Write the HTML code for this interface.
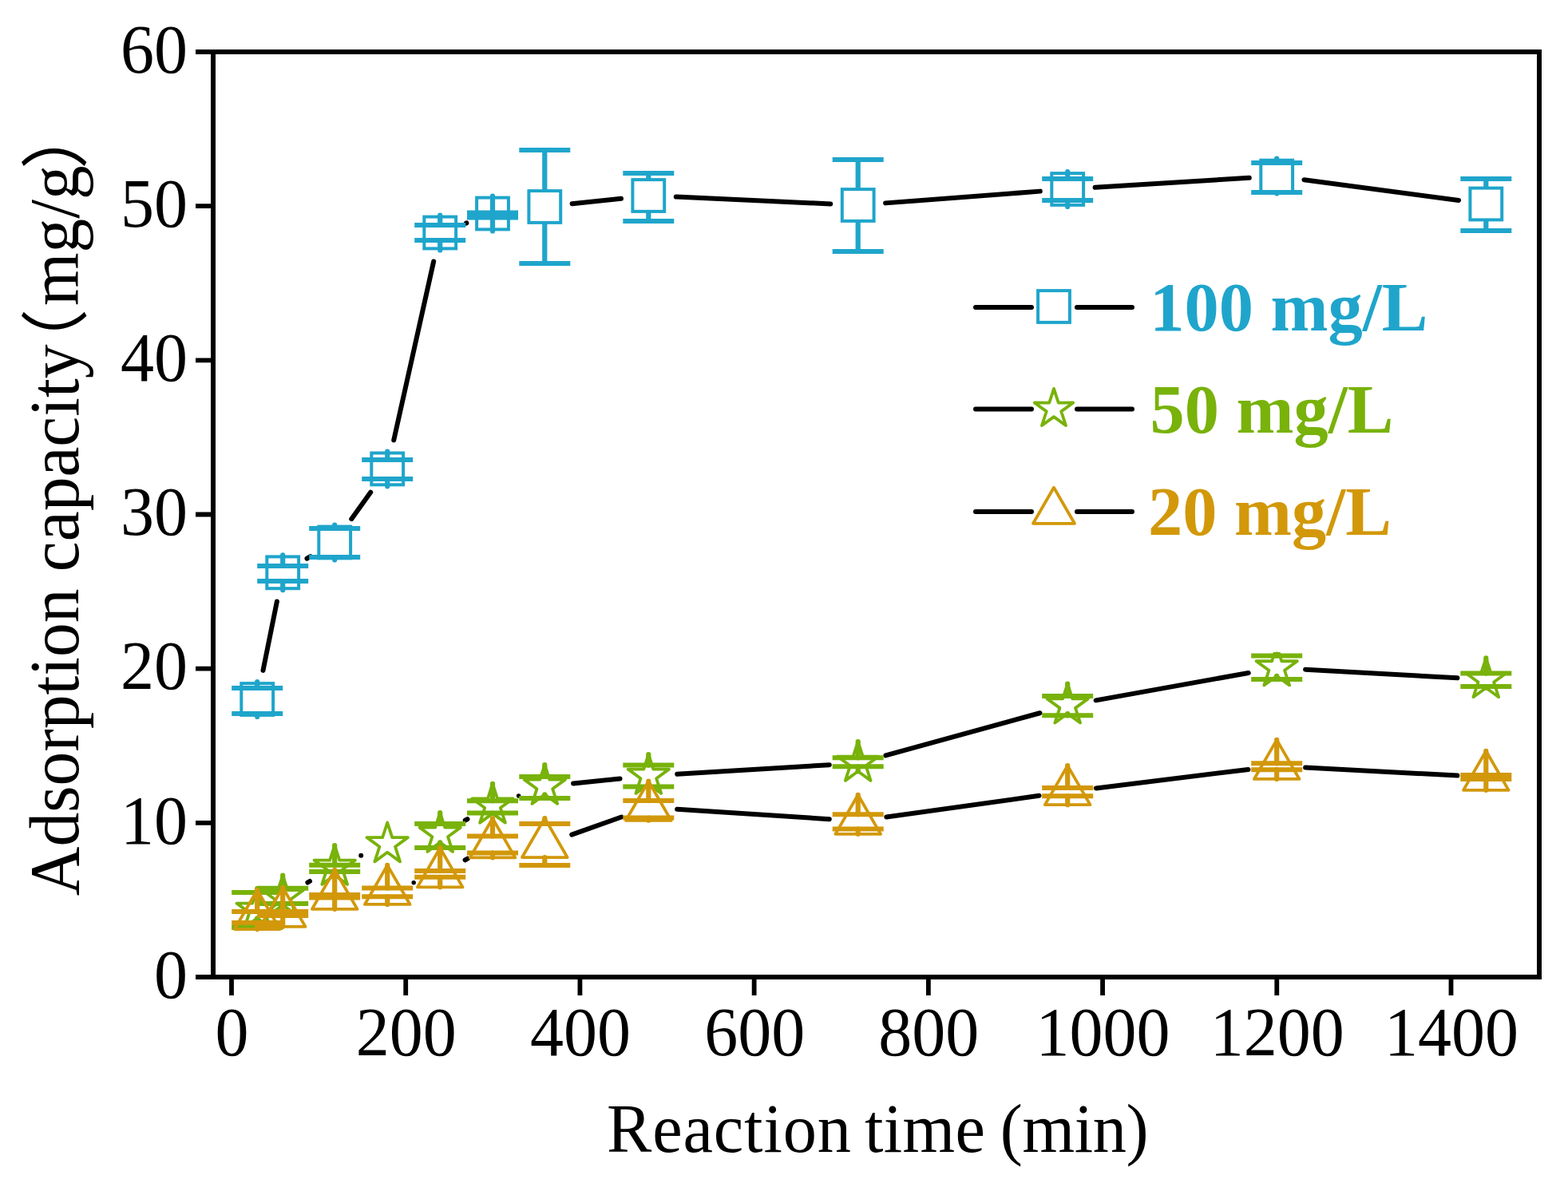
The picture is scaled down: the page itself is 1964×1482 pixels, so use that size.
<!DOCTYPE html>
<html><head><meta charset="utf-8"><title>Adsorption capacity vs reaction time</title>
<style>html,body{margin:0;padding:0;background:#fff;overflow:hidden}svg{display:block}text{font-kerning:none}</style>
</head><body>
<svg width="1964" height="1482" viewBox="0 0 1964 1482">
<rect width="1964" height="1482" fill="#fff"/>
<g font-family="'Liberation Serif', serif" font-size="84" fill="#000">
<text transform="translate(235 1249.8) scale(1 1.03)" text-anchor="end">0</text><text transform="translate(235 1056.63) scale(1 1.03)" text-anchor="end">10</text><text transform="translate(235 863.46) scale(1 1.03)" text-anchor="end">20</text><text transform="translate(235 670.29) scale(1 1.03)" text-anchor="end">30</text><text transform="translate(235 477.12) scale(1 1.03)" text-anchor="end">40</text><text transform="translate(235 283.95) scale(1 1.03)" text-anchor="end">50</text><text transform="translate(235 90.78) scale(1 1.03)" text-anchor="end">60</text>
<text transform="translate(290.5 1321.8) scale(1 1.03)" text-anchor="middle">0</text><text transform="translate(508.71 1321.8) scale(1 1.03)" text-anchor="middle">200</text><text transform="translate(726.93 1321.8) scale(1 1.03)" text-anchor="middle">400</text><text transform="translate(945.14 1321.8) scale(1 1.03)" text-anchor="middle">600</text><text transform="translate(1163.36 1321.8) scale(1 1.03)" text-anchor="middle">800</text><text transform="translate(1381.57 1321.8) scale(1 1.03)" text-anchor="middle">1000</text><text transform="translate(1599.78 1321.8) scale(1 1.03)" text-anchor="middle">1200</text><text transform="translate(1818 1321.8) scale(1 1.03)" text-anchor="middle">1400</text>
<g transform="translate(0 1442.6) scale(1 1.015)" font-size="84.4"><text x="760" y="0" letter-spacing="0.86">Reaction</text><text x="1082.9" y="0" letter-spacing="0.37">time</text><text x="1252.8" y="0" letter-spacing="-0.43">(min)</text></g>
<g transform="translate(98 1122.3) rotate(-90)" font-size="85.5">
<text x="0" y="0" transform="scale(1 1.03)">Adsorption capacity</text>
<text x="650" y="2" font-family="'Noto Sans CJK SC', sans-serif">（</text>
<text x="739.2" y="0" transform="scale(1 1.03)">mg/g</text>
<text x="910.3" y="2" font-family="'Noto Sans CJK SC', sans-serif">）</text>
</g>
</g>
<path d="M329.49 839.84L346.91 753.46M384.52 699.67L388.88 697.13M440.22 650.17L464.18 616.73M493.23 551.42L543.17 327.48M583.86 279.59L584.34 279.41M716.63 255.3L777.97 248.7M846.77 246.58L1040.23 255.42M1109.11 254.38L1302.79 239.62M1371.64 234.84L1564.76 222.76M1633.44 225.16L1827.06 250.94" stroke="#000" stroke-width="6.0" stroke-linecap="round" fill="none"/>

<rect x="302.3" y="856.1" width="39.8" height="39.8" fill="none" stroke="#1fa5cb" stroke-width="4.0"/>
<rect x="334.3" y="697.4" width="39.8" height="39.8" fill="none" stroke="#1fa5cb" stroke-width="4.0"/>
<rect x="399.3" y="659.6" width="39.8" height="39.8" fill="none" stroke="#1fa5cb" stroke-width="4.0"/>
<rect x="465.3" y="567.5" width="39.8" height="39.8" fill="none" stroke="#1fa5cb" stroke-width="4.0"/>
<rect x="531.3" y="271.6" width="39.8" height="39.8" fill="none" stroke="#1fa5cb" stroke-width="4.0"/>
<rect x="597.1" y="247.6" width="39.8" height="39.8" fill="none" stroke="#1fa5cb" stroke-width="4.0"/>
<rect x="662.4" y="239.1" width="39.8" height="39.8" fill="none" stroke="#1fa5cb" stroke-width="4.0"/>
<rect x="792.4" y="225.1" width="39.8" height="39.8" fill="none" stroke="#1fa5cb" stroke-width="4.0"/>
<rect x="1054.8" y="237.1" width="39.8" height="39.8" fill="none" stroke="#1fa5cb" stroke-width="4.0"/>
<rect x="1317.3" y="217.1" width="39.8" height="39.8" fill="none" stroke="#1fa5cb" stroke-width="4.0"/>
<rect x="1579.3" y="200.7" width="39.8" height="39.8" fill="none" stroke="#1fa5cb" stroke-width="4.0"/>
<rect x="1841.4" y="235.6" width="39.8" height="39.8" fill="none" stroke="#1fa5cb" stroke-width="4.0"/>
<path d="M322.2 854.1V862M322.2 897.9V894M354.2 695.4V709M354.2 739.2V728M419.2 657.6V662M419.2 701.4V698M485.2 565.5V576M485.2 609.3V600M551.2 269.6V282M551.2 313.4V301M617 245.6V266.5M617 289.4V272.5M682.3 237.1V188M682.3 280.9V330M812.3 223.1V217M812.3 266.9V277M1074.7 235.1V200M1074.7 278.9V315M1337.2 215.1V224M1337.2 258.9V251M1599.2 198.7V204M1599.2 242.5V241M1861.3 233.6V224M1861.3 277.4V289" stroke="#1fa5cb" stroke-width="6.2" stroke-linecap="round" fill="none"/>
<path d="M290.2 862H354.2M290.2 894H354.2M322.2 709H386.2M322.2 728H386.2M387.2 662H451.2M387.2 698H451.2M453.2 576H517.2M453.2 600H517.2M519.2 282H583.2M519.2 301H583.2M585 266.5H649M585 272.5H649M650.3 188H714.3M650.3 330H714.3M780.3 217H844.3M780.3 277H844.3M1042.7 200H1106.7M1042.7 315H1106.7M1305.2 224H1369.2M1305.2 251H1369.2M1567.2 204H1631.2M1567.2 241H1631.2M1829.3 224H1893.3M1829.3 289H1893.3" stroke="#1fa5cb" stroke-width="6.0" stroke-linecap="butt" fill="none"/>
<path d="M385.38 1105.51L388.02 1103.99M582.74 1027.65L585.46 1026.15M718.12 981.42L776.48 975.58M848.23 969.81L1038.77 958.19M1109.41 946.44L1302.49 893.26M1372.63 877.33L1563.77 842.97M1635.14 838.63L1825.36 849.37" stroke="#000" stroke-width="6.0" stroke-linecap="round" fill="none"/>
<circle cx="452.2" cy="1071.75" r="3"/><circle cx="649.65" cy="996.9" r="2.75"/>
<polygon points="322.2,1113 328.25,1131.67 347.88,1131.66 332,1143.18 338.07,1161.84 322.2,1150.3 306.33,1161.84 312.4,1143.18 296.52,1131.66 316.15,1131.67" fill="none" stroke="#78b20a" stroke-width="3.8" stroke-linejoin="round"/>
<polygon points="354.2,1096.5 360.25,1115.17 379.88,1115.16 364,1126.68 370.07,1145.34 354.2,1133.8 338.33,1145.34 344.4,1126.68 328.52,1115.16 348.15,1115.17" fill="none" stroke="#78b20a" stroke-width="3.8" stroke-linejoin="round"/>
<polygon points="419.2,1059 425.25,1077.67 444.88,1077.66 429,1089.18 435.07,1107.84 419.2,1096.3 403.33,1107.84 409.4,1089.18 393.52,1077.66 413.15,1077.67" fill="none" stroke="#78b20a" stroke-width="3.8" stroke-linejoin="round"/>
<polygon points="485.2,1030.5 491.25,1049.17 510.88,1049.16 495,1060.68 501.07,1079.34 485.2,1067.8 469.33,1079.34 475.4,1060.68 459.52,1049.16 479.15,1049.17" fill="none" stroke="#78b20a" stroke-width="3.8" stroke-linejoin="round"/>
<polygon points="551.2,1018 557.25,1036.67 576.88,1036.66 561,1048.18 567.07,1066.84 551.2,1055.3 535.33,1066.84 541.4,1048.18 525.52,1036.66 545.15,1036.67" fill="none" stroke="#78b20a" stroke-width="3.8" stroke-linejoin="round"/>
<polygon points="617,981.8 623.05,1000.47 642.68,1000.46 626.8,1011.98 632.87,1030.64 617,1019.1 601.13,1030.64 607.2,1011.98 591.32,1000.46 610.95,1000.47" fill="none" stroke="#78b20a" stroke-width="3.8" stroke-linejoin="round"/>
<polygon points="682.3,958 688.35,976.67 707.98,976.66 692.1,988.18 698.17,1006.84 682.3,995.3 666.43,1006.84 672.5,988.18 656.62,976.66 676.25,976.67" fill="none" stroke="#78b20a" stroke-width="3.8" stroke-linejoin="round"/>
<polygon points="812.3,945 818.35,963.67 837.98,963.66 822.1,975.18 828.17,993.84 812.3,982.3 796.43,993.84 802.5,975.18 786.62,963.66 806.25,963.67" fill="none" stroke="#78b20a" stroke-width="3.8" stroke-linejoin="round"/>
<polygon points="1074.7,929 1080.75,947.67 1100.38,947.66 1084.5,959.18 1090.57,977.84 1074.7,966.3 1058.83,977.84 1064.9,959.18 1049.02,947.66 1068.65,947.67" fill="none" stroke="#78b20a" stroke-width="3.8" stroke-linejoin="round"/>
<polygon points="1337.2,856.7 1343.25,875.37 1362.88,875.36 1347,886.88 1353.07,905.54 1337.2,894 1321.33,905.54 1327.4,886.88 1311.52,875.36 1331.15,875.37" fill="none" stroke="#78b20a" stroke-width="3.8" stroke-linejoin="round"/>
<clipPath id="c1200"><rect x="1559.2" y="817" width="80" height="80"/></clipPath><g clip-path="url(#c1200)"><polygon points="1599.2,809.6 1605.25,828.27 1624.88,828.26 1609,839.78 1615.07,858.44 1599.2,846.9 1583.33,858.44 1589.4,839.78 1573.52,828.26 1593.15,828.27" fill="none" stroke="#78b20a" stroke-width="3.8" stroke-linejoin="round"/></g>
<polygon points="1861.3,824.4 1867.35,843.07 1886.98,843.06 1871.1,854.58 1877.17,873.24 1861.3,861.7 1845.43,873.24 1851.5,854.58 1835.62,843.06 1855.25,843.07" fill="none" stroke="#78b20a" stroke-width="3.8" stroke-linejoin="round"/>
<path d="M322.2 1113V1118M322.2 1150.3V1162M354.2 1096.5V1112.8M354.2 1133.8V1132M419.2 1059V1083.7M419.2 1096.3V1092M551.2 1018V1032.1M551.2 1055.3V1061.9M617 981.8V1003.2M617 1019.1V1018.5M682.3 958V972.9M682.3 995.3V999.9M812.3 945V958.6M812.3 982.3V985.5M1074.7 929V949.3M1074.7 966.3V960.3M1337.2 856.7V872M1337.2 894V896.3M1599.2 819.6V821.6M1599.2 846.9V851M1861.3 824.4V843.6M1861.3 861.7V860" stroke="#78b20a" stroke-width="6.2" stroke-linecap="round" fill="none"/>
<path d="M290.2 1118H354.2M290.2 1162H354.2M322.2 1112.8H386.2M322.2 1132H386.2M387.2 1083.7H451.2M387.2 1092H451.2M519.2 1032.1H583.2M519.2 1061.9H583.2M585 1003.2H649M585 1018.5H649M650.3 972.9H714.3M650.3 999.9H714.3M780.3 958.6H844.3M780.3 985.5H844.3M1042.7 949.3H1106.7M1042.7 960.3H1106.7M1305.2 872H1369.2M1305.2 896.3H1369.2M1567.2 821.6H1631.2M1567.2 851H1631.2M1829.3 843.6H1893.3M1829.3 860H1893.3" stroke="#78b20a" stroke-width="6.0" stroke-linecap="butt" fill="none"/>
<path d="M582.58 1077.36L585.62 1075.64M716.21 1045.62L778.39 1023.48M848.22 1013.74L1038.78 1026.16M1110.35 1023.52L1301.55 996.78M1372.93 987.41L1563.47 963.99M1635.15 961.51L1825.35 971.59" stroke="#000" stroke-width="6.0" stroke-linecap="round" fill="none"/>
<circle cx="518.2" cy="1105.8" r="2.72"/>
<polygon points="322.2,1115 350.52,1164.05 293.88,1164.05" fill="none" stroke="#d2980a" stroke-width="3.8" stroke-linejoin="round"/>
<polygon points="354.2,1111.8 382.52,1160.85 325.88,1160.85" fill="none" stroke="#d2980a" stroke-width="3.8" stroke-linejoin="round"/>
<polygon points="419.2,1089.8 447.52,1138.85 390.88,1138.85" fill="none" stroke="#d2980a" stroke-width="3.8" stroke-linejoin="round"/>
<polygon points="485.2,1083.9 513.52,1132.95 456.88,1132.95" fill="none" stroke="#d2980a" stroke-width="3.8" stroke-linejoin="round"/>
<polygon points="551.2,1062.3 579.52,1111.35 522.88,1111.35" fill="none" stroke="#d2980a" stroke-width="3.8" stroke-linejoin="round"/>
<polygon points="617,1025.3 645.32,1074.35 588.68,1074.35" fill="none" stroke="#d2980a" stroke-width="3.8" stroke-linejoin="round"/>
<polygon points="682.3,1025 710.62,1074.05 653.98,1074.05" fill="none" stroke="#d2980a" stroke-width="3.8" stroke-linejoin="round"/>
<polygon points="812.3,978.7 840.62,1027.75 783.98,1027.75" fill="none" stroke="#d2980a" stroke-width="3.8" stroke-linejoin="round"/>
<polygon points="1074.7,995.8 1103.02,1044.85 1046.38,1044.85" fill="none" stroke="#d2980a" stroke-width="3.8" stroke-linejoin="round"/>
<polygon points="1337.2,959.1 1365.52,1008.15 1308.88,1008.15" fill="none" stroke="#d2980a" stroke-width="3.8" stroke-linejoin="round"/>
<polygon points="1599.2,926.9 1627.52,975.95 1570.88,975.95" fill="none" stroke="#d2980a" stroke-width="3.8" stroke-linejoin="round"/>
<polygon points="1861.3,940.8 1889.62,989.85 1832.98,989.85" fill="none" stroke="#d2980a" stroke-width="3.8" stroke-linejoin="round"/>
<path d="M322.2 1115V1142.1M322.2 1164.05V1156.1M354.2 1111.8V1142.1M354.2 1160.85V1147.1M419.2 1089.8V1121M419.2 1138.85V1124.6M485.2 1083.9V1112.4M485.2 1132.95V1123.3M551.2 1062.3V1090.9M551.2 1111.35V1098.8M617 1025.3V1047.5M617 1074.35V1068.5M682.3 1025V1032M682.3 1074.05V1084.1M812.3 978.7V1003.1M812.3 1027.75V1024.6M1074.7 995.8V1020.2M1074.7 1044.85V1038.5M1337.2 959.1V986.9M1337.2 1008.15V997.3M1599.2 926.9V956.3M1599.2 975.95V964.2M1861.3 940.8V971M1861.3 989.85V976" stroke="#d2980a" stroke-width="6.2" stroke-linecap="round" fill="none"/>
<path d="M290.2 1142.1H354.2M290.2 1156.1H354.2M322.2 1142.1H386.2M322.2 1147.1H386.2M387.2 1121H451.2M387.2 1124.6H451.2M453.2 1112.4H517.2M453.2 1123.3H517.2M519.2 1090.9H583.2M519.2 1098.8H583.2M585 1047.5H649M585 1068.5H649M650.3 1032H714.3M650.3 1084.1H714.3M780.3 1003.1H844.3M780.3 1024.6H844.3M1042.7 1020.2H1106.7M1042.7 1038.5H1106.7M1305.2 986.9H1369.2M1305.2 997.3H1369.2M1567.2 956.3H1631.2M1567.2 964.2H1631.2M1829.3 971H1893.3M1829.3 976H1893.3" stroke="#d2980a" stroke-width="6.0" stroke-linecap="butt" fill="none"/>
<rect x="267" y="65" width="1661" height="1159" fill="none" stroke="#000" stroke-width="6"/>
<path d="M245 1224H267M245 1030.83H267M245 837.66H267M245 644.49H267M245 451.32H267M245 258.15H267M245 64.98H267M290 1224V1247M508.21 1224V1247M726.43 1224V1247M944.64 1224V1247M1162.86 1224V1247M1381.07 1224V1247M1599.28 1224V1247M1817.5 1224V1247" stroke="#000" stroke-width="5.8" fill="none"/>

<path d="M1222 385H1292M1349 385H1418M1222 512.6H1292M1349 512.6H1418M1222 641H1292M1349 641H1418" stroke="#000" stroke-width="6" stroke-linecap="round"/>
<rect x="1300.1" y="364.1" width="39.8" height="39.8" fill="none" stroke="#1fa5cb" stroke-width="4.0"/>
<polygon points="1320,486.9 1325.72,504.53 1344.25,504.52 1329.25,515.41 1334.99,533.03 1320,522.13 1305.01,533.03 1310.75,515.41 1295.75,504.52 1314.28,504.53" fill="none" stroke="#78b20a" stroke-width="3.8" stroke-linejoin="round"/>
<polygon points="1320,610.8 1345.98,655.8 1294.02,655.8" fill="none" stroke="#d2980a" stroke-width="3.8" stroke-linejoin="round"/>
<g font-family="'Liberation Serif', serif" font-weight="bold" font-size="86.4">
<text x="1440.3" y="413.6" fill="#1fa5cb">100 mg/L</text>
<text x="1440.6" y="541.8" fill="#78b20a">50 mg/L</text>
<text x="1438" y="669.6" fill="#d2980a">20 mg/L</text>
</g>
</svg>
</body></html>
